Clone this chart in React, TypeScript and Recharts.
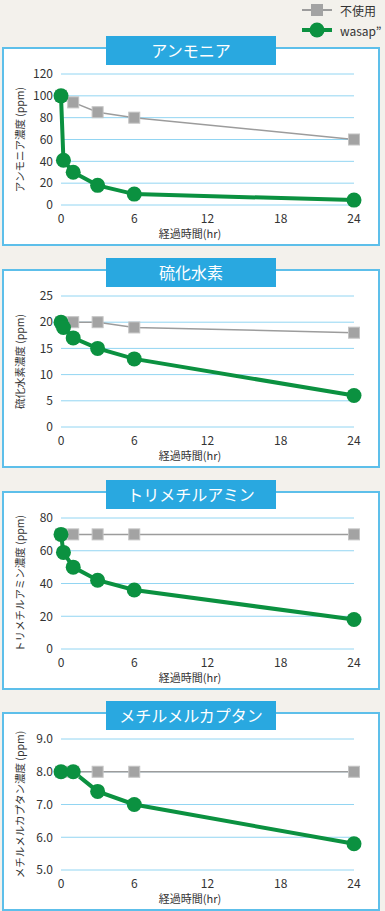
import React from "react";
import { LineChart, Line, XAxis, YAxis, CartesianGrid, Label } from "recharts";

// hours after start
const hoursControl = [0, 1, 3, 6, 24];
const hoursWasap = [0, 0.2, 1, 3, 6, 24];
const hoursWasapMM = [0, 1, 3, 6, 24];
const hourTicks = [0, 6, 12, 18, 24];

const ammoniaControl = [100, 94, 85, 80, 60];
const ammoniaWasap = [100, 41, 30, 18, 10, 4.5];
const h2sControl = [20, 20, 20, 19, 18];
const h2sWasap = [20, 19, 17, 15, 13, 6];
const tmaControl = [70, 70, 70, 70, 70];
const tmaWasap = [70, 59, 50, 42, 36, 18];
const mmControl = [8, 8, 8, 8, 8];
const mmWasap = [8, 8, 7.4, 7.0, 5.8];

const seriesNames = ["不使用", "wasap\u201D"];
const xTitle = "経過時間(hr)";

const FONT = "'Noto Sans CJK JP', 'Noto Sans', sans-serif";
const GREEN = "#0b9140";
const GRAY = "#a3a3a3";
const BLUE = "#29a8e0";

const toPoints = (xs: number[], ys: number[]) => xs.map((h, i) => ({ h, v: ys[i] }));

const SquareDot = (props: any) => {
  const { cx, cy } = props;
  if (cx == null || cy == null) return null;
  return <rect x={cx - 5.5} y={cy - 5.5} width={11} height={11} fill={GRAY} stroke="#c4c4c4" strokeWidth={1} />;
};

const CircleDot = (props: any) => {
  const { cx, cy } = props;
  if (cx == null || cy == null) return null;
  return <circle cx={cx} cy={cy} r={7.5} fill={GREEN} />;
};

interface PanelProps {
  top: number;
  title: string;
  yLabel: string;
  domain: [number, number];
  yTicks: number[];
  decimals?: number;
  control: { h: number; v: number }[];
  wasap: { h: number; v: number }[];
}

function Panel({ top, title, yLabel, domain, yTicks, decimals = 0, control, wasap }: PanelProps) {
  return (
    <>
      <div
        style={{
          position: "absolute",
          left: 2,
          top,
          width: 374,
          height: 195,
          background: "#fff",
          border: "2px solid #5dbfea",
        }}
      />
      <div style={{ position: "absolute", left: 0, top, width: 385, height: 200 }}>
        <LineChart
          width={385}
          height={200}
          margin={{ top: 27, right: 31, left: 21, bottom: 12 }}
          style={{ fontFamily: FONT }}
        >
          <CartesianGrid vertical={false} stroke="#92d5f2" strokeWidth={1} />
          <XAxis
            type="number"
            dataKey="h"
            domain={[0, 24]}
            ticks={hourTicks}
            allowDuplicatedCategory={false}
            axisLine={false}
            tickLine={false}
            tickMargin={3}
            height={30}
            tick={{ fill: "#333", fontSize: 12, fontFamily: FONT }}
          >
            <Label
              content={(p: any) => (
                <text
                  x={190}
                  y={p.viewBox.y + 28}
                  textAnchor="middle"
                  dominantBaseline="central"
                  fontSize={11}
                  fill="#333"
                  fontFamily={FONT}
                >
                  {xTitle}
                </text>
              )}
            />
          </XAxis>
          <YAxis
            type="number"
            domain={domain}
            ticks={yTicks}
            width={40}
            axisLine={false}
            tickLine={false}
            interval={0}
            tickFormatter={(v: number) => v.toFixed(decimals)}
            tick={{ fill: "#333", fontSize: 12, fontFamily: FONT }}
          >
            <Label
              content={(p: any) => {
                const cy = p.viewBox.y + p.viewBox.height / 2;
                return (
                  <text
                    x={19}
                    y={cy}
                    transform={`rotate(-90 19 ${cy})`}
                    textAnchor="middle"
                    dominantBaseline="central"
                    fontSize={10.5}
                    fill="#333"
                    fontFamily={FONT}
                  >
                    {yLabel}
                  </text>
                );
              }}
            />
          </YAxis>
          <Line
            data={control}
            dataKey="v"
            name={seriesNames[0]}
            stroke="#9c9c9c"
            strokeWidth={1.5}
            dot={<SquareDot />}
            activeDot={false}
            isAnimationActive={false}
          />
          <Line
            data={wasap}
            dataKey="v"
            name={seriesNames[1]}
            stroke={GREEN}
            strokeWidth={4}
            dot={<CircleDot />}
            activeDot={false}
            isAnimationActive={false}
          />
        </LineChart>
      </div>
      <div
        style={{
          position: "absolute",
          left: 106,
          top: top - 11,
          width: 170,
          height: 29,
          background: BLUE,
          color: "#fff",
          fontFamily: FONT,
          fontSize: 16,
          lineHeight: "29px",
          textAlign: "center",
        }}
      >
        {title}
      </div>
    </>
  );
}

export default function App() {
  return (
    <div
      style={{
        position: "absolute",
        left: 0,
        top: 0,
        width: 385,
        height: 911,
        background: "#f3f1ec",
        overflow: "hidden",
        fontFamily: FONT,
      }}
    >
      <svg width={385} height={45} style={{ position: "absolute", left: 0, top: 0 }}>
        <line x1={302} y1={10} x2={332} y2={10} stroke="#9c9c9c" strokeWidth={2} />
        <rect x={311} y={4} width={12} height={12} fill={GRAY} />
        <text x={340} y={10} dominantBaseline="central" fontSize={12} fill="#333" fontFamily={FONT}>
          {seriesNames[0]}
        </text>
        <line x1={302} y1={30} x2={332} y2={30} stroke={GREEN} strokeWidth={4} />
        <circle cx={317} cy={30} r={7.5} fill={GREEN} />
        <text x={340} y={30} dominantBaseline="central" fontSize={12} fill="#333" fontFamily={FONT}>
          {seriesNames[1]}
        </text>
      </svg>
      <Panel
        top={47}
        title="アンモニア"
        yLabel="アンモニア濃度 (ppm)"
        domain={[0, 120]}
        yTicks={[0, 20, 40, 60, 80, 100, 120]}
        control={toPoints(hoursControl, ammoniaControl)}
        wasap={toPoints(hoursWasap, ammoniaWasap)}
      />
      <Panel
        top={269}
        title="硫化水素"
        yLabel="硫化水素濃度 (ppm)"
        domain={[0, 25]}
        yTicks={[0, 5, 10, 15, 20, 25]}
        control={toPoints(hoursControl, h2sControl)}
        wasap={toPoints(hoursWasap, h2sWasap)}
      />
      <Panel
        top={491}
        title="トリメチルアミン"
        yLabel="トリメチルアミン濃度 (ppm)"
        domain={[0, 80]}
        yTicks={[0, 20, 40, 60, 80]}
        control={toPoints(hoursControl, tmaControl)}
        wasap={toPoints(hoursWasap, tmaWasap)}
      />
      <Panel
        top={712}
        title="メチルメルカプタン"
        yLabel="メチルメルカプタン濃度 (ppm)"
        domain={[5, 9]}
        yTicks={[5, 6, 7, 8, 9]}
        decimals={1}
        control={toPoints(hoursControl, mmControl)}
        wasap={toPoints(hoursWasapMM, mmWasap)}
      />
    </div>
  );
}
